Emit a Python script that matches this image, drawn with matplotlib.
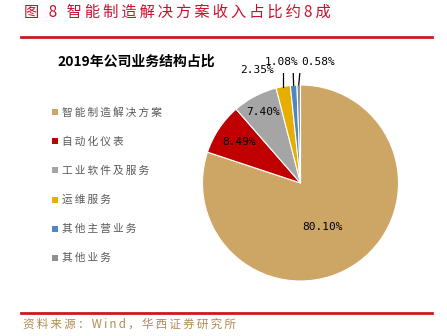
import numpy as np
import matplotlib.pyplot as plt
from matplotlib.patches import Rectangle

plt.rcParams['font.family'] = ['Noto Sans CJK SC', 'DejaVu Sans']

# 2019 revenue structure
categories = ['智能制造解决方案', '自动化仪表', '工业软件及服务', '运维服务', '其他主营业务', '其他业务']
shares = [80.10, 8.49, 7.40, 2.35, 1.08, 0.58]
colors = ['#CDA665', '#C00000', '#A5A5A5', '#E5AE00', '#4E87C2', '#8F8F8F']

W, H = 447, 336
fig = plt.figure(figsize=(W / 100, H / 100), dpi=100)


def fx(x):
    return x / W


def fy(y):
    return 1 - y / H


def tracked(s):
    # loose tracking: thin space between glyphs
    return '\u2009'.join(s)


# header / footer
fig.text(fx(24), fy(12), tracked('图 8 智能制造解决方案收入占比约8成'), ha='left', va='center',
         fontsize=11, color='#C8102E')
fig.add_artist(plt.Line2D([fx(21), fx(432)], [fy(37), fy(37)], color='#CC1A1A', lw=2))
fig.add_artist(plt.Line2D([fx(21), fx(432)], [fy(313), fy(313)], color='#CC1A1A', lw=2))
fig.text(fx(23), fy(324), tracked('资料来源：Wind，华西证券研究所'), ha='left', va='center',
         fontsize=8.3, color='#B08A4E')

# chart title
fig.text(fx(57), fy(62), '2019年公司业务结构占比', ha='left', va='center',
         fontsize=10, fontweight='bold', color='black')

# legend
leg_y = 112
for name, c in zip(categories, colors):
    fig.add_artist(Rectangle((fx(52), fy(leg_y + 3)), 6 / W, 6 / H,
                             facecolor=c, edgecolor='none', transform=fig.transFigure))
    fig.text(fx(62), fy(leg_y), tracked(name), ha='left', va='center',
             fontsize=7.7, color='#595959')
    leg_y += 29.2

# pie: centre (300.5, 183) px, radius 98 px
R = 98.0
half = 110.0
ax = fig.add_axes([fx(300.5 - half), fy(183 + half), 2 * half / W, 2 * half / H])

wedges, _ = ax.pie(shares, colors=colors, startangle=90, counterclock=False,
                   radius=1.0, wedgeprops=dict(edgecolor='white', linewidth=0.8))
ax.set_xlim(-half / R, half / R)
ax.set_ylim(-half / R, half / R)
ax.axis('off')

lab_kw = dict(fontsize=8, family='DejaVu Sans Mono', color='black', ha='center', va='center')


def mid_angle(w):
    return np.deg2rad((w.theta1 + w.theta2) / 2)


# inside labels: (radius, angle override in degrees or None)
inside = {0: (0.50, -63.0), 1: (0.755, None), 2: (0.82, None)}
for i, (r, ang) in inside.items():
    a = np.deg2rad(ang) if ang is not None else mid_angle(wedges[i])
    ax.text(r * np.cos(a), r * np.sin(a), f'{shares[i]:.2f}%', **lab_kw)


def to_data(px, py):
    return (px - 300.5) / R, (183 - py) / R


# outside labels with leader lines
# 2.35%
a = mid_angle(wedges[3])
ex, ey = np.cos(a), np.sin(a)
lx, ly = to_data(257, 70)
kx, ky = to_data(273, 71)
ax.plot([ex, ex, kx], [ey, ky, ky], color='black', lw=0.9)
ax.text(lx, ly, f'{shares[3]:.2f}%', **lab_kw)

# 1.08%
a = mid_angle(wedges[4])
ex, ey = np.cos(a), np.sin(a)
lx, ly = to_data(282, 62)
tx, ty = to_data(293, 66)
ax.plot([ex, tx], [ey, ty], color='black', lw=0.9)
ax.text(lx, ly, f'{shares[4]:.2f}%', **lab_kw)

# 0.58%
a = mid_angle(wedges[5])
ex, ey = np.cos(a), np.sin(a)
lx, ly = to_data(318, 62)
tx, ty = to_data(300.5, 66)
ax.plot([ex, tx], [ey, ty], color='black', lw=0.9)
ax.text(lx, ly, f'{shares[5]:.2f}%', **lab_kw)

fig.savefig('out.png', dpi=100)
